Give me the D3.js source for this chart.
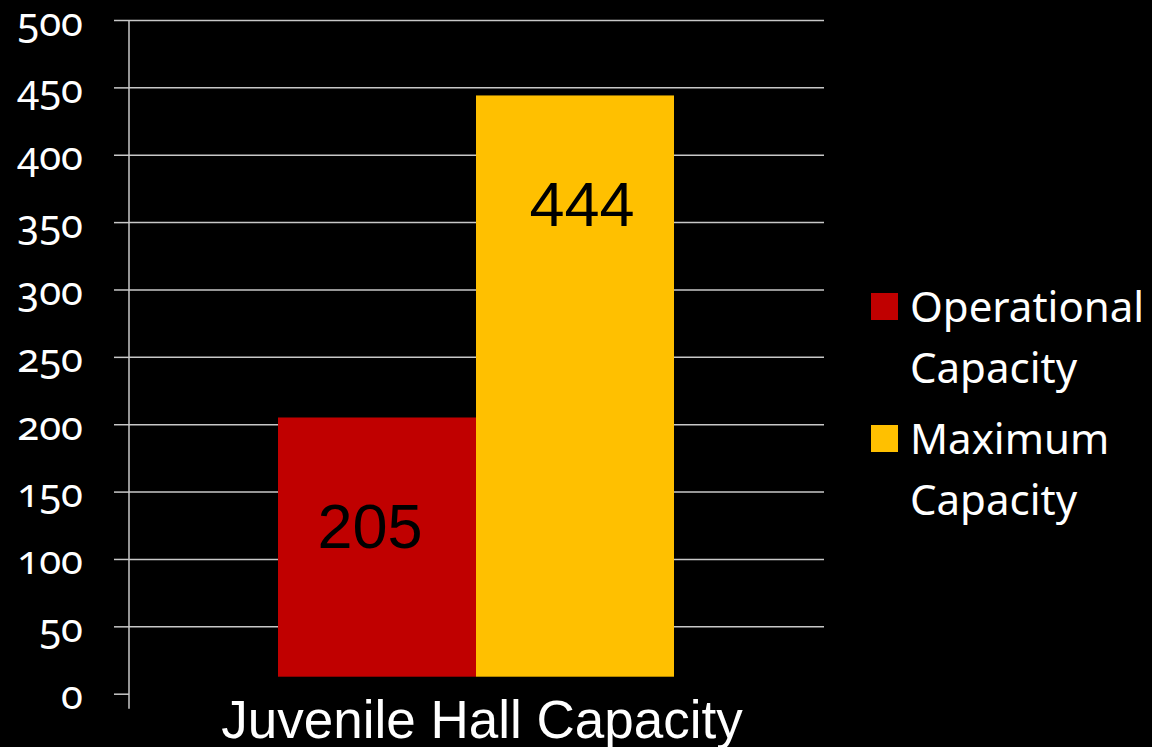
<!DOCTYPE html>
<html lang="en">

<head>
  <meta charset="UTF-8">
  <title>Juvenile Hall Capacity</title>
  <style>
    body {
      margin: 0;
      background: #000;
    }

    .gridlines line {
      stroke: #c8c8c8;
      stroke-width: 1.5;
    }

    .y.axis text {
      font-family: "Noto Sans", sans-serif;
      font-variant-numeric: oldstyle-nums;
      font-size: 40px;
      fill: #fff;
    }

    .legend text {
      font-family: "Noto Sans", sans-serif;
      font-size: 42px;
      fill: #fff;
    }
  </style>
  <script src="https://d3js.org/d3.v7.min.js"></script>
</head>

<body>
  <svg id="chart" width="1152" height="747"></svg>
  <script>
    const category = "Juvenile Hall Capacity";
    const seriesNames = ["Operational Capacity", "Maximum Capacity"];
    const seriesValues = [205, 444];
    const seriesColors = ["#c00000", "#ffc000"];
    const yTicks = [0, 50, 100, 150, 200, 250, 300, 350, 400, 450, 500];

    const svg = d3.select("svg#chart");
    const axisX = 129;
    const gridRight = 824;

    const yScale = d3.scaleLinear()
      .domain([0, 500])
      .range([693.7, 20]);

    const xScale = d3.scaleBand()
      .domain(seriesNames)
      .range([278, 674])
      .padding(0);

    // gridlines (no line at zero)
    let grid = d3.axisLeft(yScale)
      .tickValues(yTicks.filter(d => d > 0))
      .tickSize(-(gridRight - axisX))
      .tickFormat('');
    svg.append('g')
      .attr('class', 'gridlines')
      .attr('transform', `translate(${axisX},0)`)
      .call(grid)
      .call(g => g.select('.domain').remove());

    // tick marks + labels
    let leftAxis = d3.axisLeft(yScale)
      .tickValues(yTicks)
      .tickSize(15)
      .tickPadding(31);
    svg.append('g')
      .attr('class', 'y axis')
      .attr('transform', `translate(${axisX},0)`)
      .call(leftAxis)
      .call(g => g.select('.domain').remove())
      .call(g => g.selectAll('.tick line').attr('stroke', '#c8c8c8').attr('stroke-width', 1.5))
      .call(g => g.selectAll('.tick text').attr('dy', 15));

    svg.append('line')
      .attr('x1', axisX).attr('x2', axisX)
      .attr('y1', yScale(500)).attr('y2', yScale(0) + 15)
      .attr('stroke', '#c8c8c8')
      .attr('stroke-width', 1.5);

    // bars
    const barBase = yScale(0) - 17;
    svg.append('g')
      .selectAll('rect')
      .data(seriesNames)
      .join('rect')
      .attr('x', d => xScale(d))
      .attr('y', (d, i) => yScale(seriesValues[i]))
      .attr('width', xScale.bandwidth())
      .attr('height', (d, i) => barBase - yScale(seriesValues[i]))
      .attr('fill', (d, i) => seriesColors[i]);

    // value labels
    svg.append('g')
      .selectAll('text')
      .data(seriesNames)
      .join('text')
      .attr('x', (d, i) => xScale(d) + xScale.bandwidth() / 2 + (i === 0 ? -7 : 7))
      .attr('y', (d, i) => yScale(seriesValues[i]) + 131)
      .attr('text-anchor', 'middle')
      .attr('font-family', '"Liberation Sans", Arial, sans-serif')
      .attr('font-size', 63)
      .attr('fill', '#000')
      .text((d, i) => seriesValues[i]);

    // category label
    svg.append('text')
      .attr('x', 482)
      .attr('y', 738)
      .attr('text-anchor', 'middle')
      .attr('font-family', '"Liberation Sans", Arial, sans-serif')
      .attr('font-size', 53)
      .attr('fill', '#fff')
      .text(category);

    // legend
    const legend = svg.append('g').attr('class', 'legend');
    const legendTop = [293, 425];
    seriesNames.forEach((name, i) => {
      const words = name.split(' ');
      legend.append('rect')
        .attr('x', 871)
        .attr('y', legendTop[i])
        .attr('width', 27)
        .attr('height', 27)
        .attr('fill', seriesColors[i]);
      let t = legend.append('text')
        .attr('x', 910)
        .attr('y', legendTop[i] + 29);
      words.forEach((w, j) => {
        t.append('tspan')
          .attr('x', 910)
          .attr('dy', j === 0 ? 0 : 61)
          .text(w);
      });
    });
  </script>
</body>

</html>
